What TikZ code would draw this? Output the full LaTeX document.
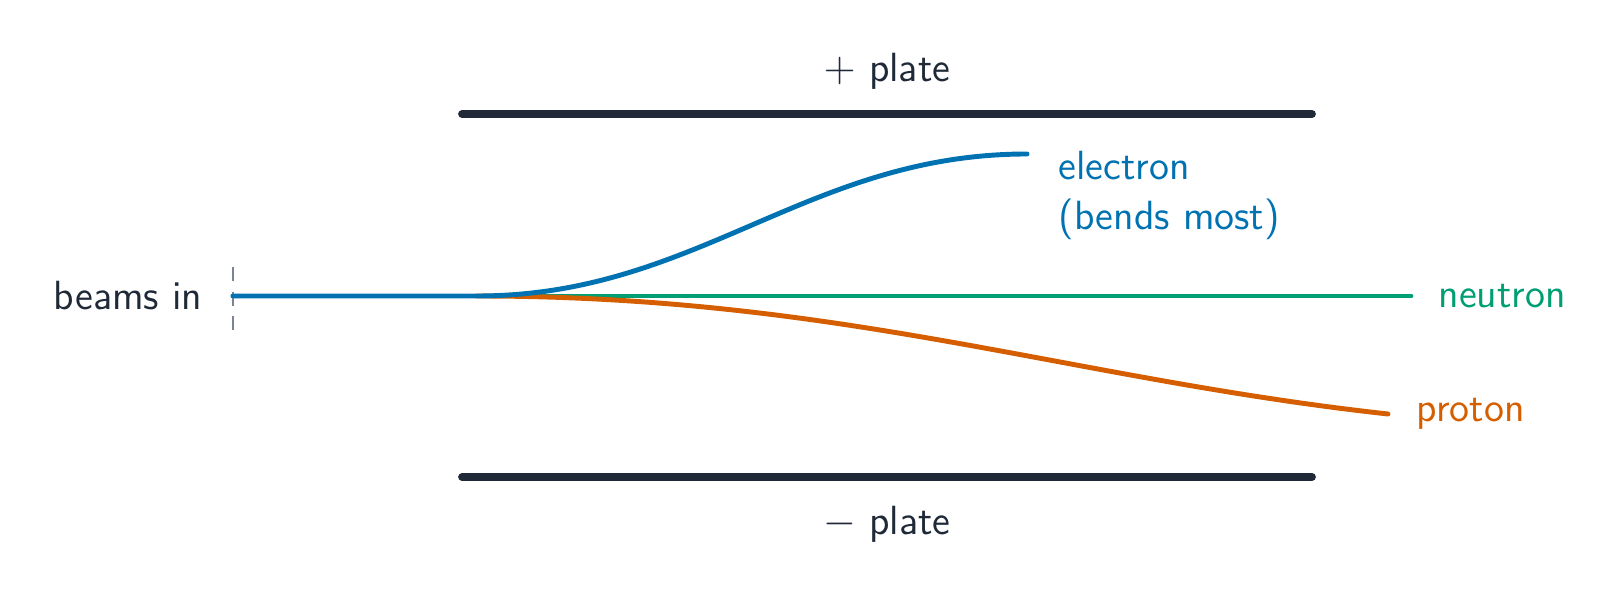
\documentclass[tikz,border=0pt]{standalone}
\usepackage{amsmath}
\usepackage{xcolor}
\usetikzlibrary{positioning}
\definecolor{ink}{HTML}{1F2937}
\definecolor{tickgray}{HTML}{7B8494}
\definecolor{eblue}{HTML}{0072B2}
\definecolor{ngreen}{HTML}{009E73}
\definecolor{porange}{HTML}{D55E00}
\begin{document}
\begin{tikzpicture}[font=\sffamily\fontsize{11.6}{14}\selectfont,
	plate/.style={line width=2.2pt, ink, line cap=round},
	beam/.style={line width=1.4pt, line cap=round},
	lbl/.style={inner sep=0pt}]
		\useasboundingbox (0,0) rectangle (16.2,5.92);
		\coordinate (ptl) at (4.62,4.78);
		\coordinate (ptr) at (13.12,4.78);
		\coordinate (pbl) at (4.62,1.15);
		\coordinate (pbr) at (13.12,1.15);
		\coordinate (src) at (2.33,2.96);
		\coordinate (split) at (4.77,2.96);
		\coordinate (nend) at (14.11,2.96);
		\coordinate (eend) at (10.27,4.38);
		\coordinate (pend) at (13.88,1.78);
		\draw[plate] (ptl) -- node[above=2.1mm, lbl, text=ink] (plus) {$+$ plate} (ptr);
		\draw[plate] (pbl) -- node[below=2.5mm, lbl, text=ink] (minus) {$-$ plate} (pbr);
		\draw[tickgray, line width=0.6pt, dash pattern=on 4pt off 3pt] (2.33,3.25) -- (2.33,2.62);
		\node[left=3mm of src, lbl, text=ink] (beamsin) {beams in};
		\draw[beam, ngreen] (src) -- (nend);
		\draw[beam, porange] (split) .. controls (8.42,2.96) and (10.70,2.13) .. (pend);
		\draw[beam, eblue] (src) -- (split) .. controls (6.97,2.96) and (8.07,4.38) .. (eend);
		\node[right=2.7mm of nend, lbl, text=ngreen] (neutron) {neutron};
		\node[right=2.8mm of pend, lbl, text=porange] (proton) {proton};
		\node[lbl, anchor=north west, align=left, text=eblue] (electron) at ([xshift=3.1mm, yshift=0.3mm]eend) {electron\\(bends most)};
	\end{tikzpicture}
\end{document}
